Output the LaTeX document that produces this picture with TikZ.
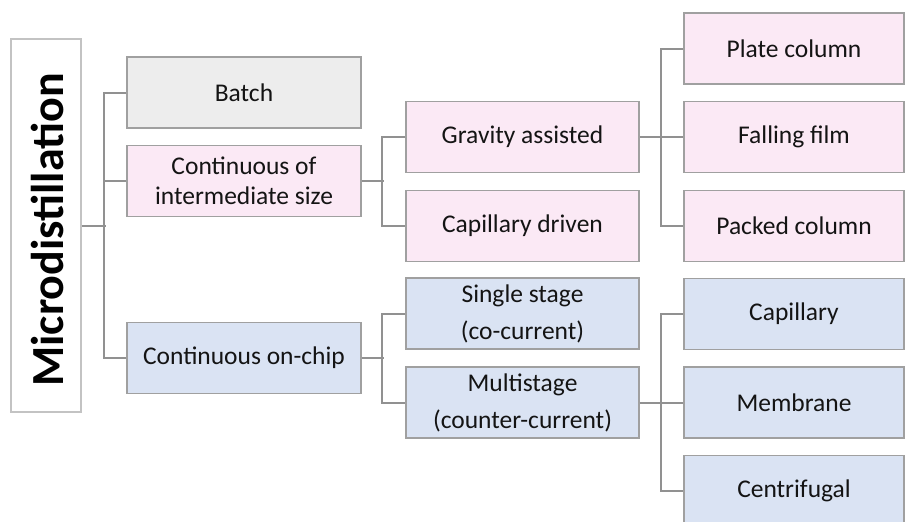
\documentclass[tikz,border=0pt]{standalone}
\usepackage{fontspec}
\setmainfont{Carlito}
\definecolor{grayfill}{RGB}{237,237,237}
\definecolor{pinkfill}{RGB}{251,233,245}
\definecolor{bluefill}{RGB}{218,227,243}
\definecolor{boxline}{RGB}{160,160,160}
\definecolor{connline}{RGB}{145,145,145}
\definecolor{titleline}{RGB}{195,195,195}
\definecolor{txt}{RGB}{20,20,20}
\begin{document}
\begin{tikzpicture}[x=1pt,y=-1pt,
  box/.style={rectangle, draw=boxline, line width=1.5pt, inner sep=0pt,
    minimum height=71pt, align=center, text=txt,
    font=\fontsize{25.5}{30}\selectfont},
  colA/.style={box, minimum width=234pt},
  colB/.style={box, minimum width=233pt},
  colC/.style={box, minimum width=220pt},
  twoline/.style={font=\fontsize{25.5}{37}\selectfont},
  conn/.style={draw=connline, line width=2pt}]
\useasboundingbox (0,0) rectangle (905,522);
\clip (0,0) rectangle (905,522);
% title
\node[rectangle, draw=titleline, line width=1.5pt, fill=white, minimum width=70pt,
  minimum height=373pt, inner sep=0pt] (title) at (46,225.5) {};
\node[rotate=90, font=\fontsize{46}{50}\selectfont\bfseries, text=black] (titletext) at (47,230) {Microdistillation};
% column 1
\node[colA, fill=grayfill] (batch) at (244,92.5) {Batch};
\node[colA, fill=pinkfill] (inter) at (244,181) {Continuous of\\intermediate size};
\node[colA, fill=bluefill] (onchip) at (244,358) {Continuous on-chip};
% column 2
\node[colB, fill=pinkfill] (gravity) at (522.5,137) {Gravity assisted};
\node[colB, fill=pinkfill] (capdrv) at (522.5,226) {Capillary driven};
\node[colB, fill=bluefill, twoline] (single) at (522.5,313.5) {Single stage\\(co-current)};
\node[colB, fill=bluefill, twoline] (multi) at (522.5,402.5) {Multistage\\(counter-current)};
% column 3
\node[colC, fill=pinkfill] (plate) at (794,48.5) {Plate column};
\node[colC, fill=pinkfill] (falling) at (794,137) {Falling film};
\node[colC, fill=pinkfill] (packed) at (794,226) {Packed column};
\node[colC, fill=bluefill] (capillary) at (794,314) {Capillary};
\node[colC, fill=bluefill] (membrane) at (794,402.5) {Membrane};
\node[colC, fill=bluefill] (centrifugal) at (794,491) {Centrifugal};
% connectors
\draw[conn] (title.east) -- ++(24,0);
\draw[conn] (batch.west) -- ++(-22,0) |- (onchip.west);
\draw[conn] (inter.west) -- ++(-22,0);
\draw[conn] (inter.east) -- ++(22,0);
\draw[conn] (gravity.west) -- ++(-23,0) |- (capdrv.west);
\draw[conn] (onchip.east) -- ++(22,0);
\draw[conn] (single.west) -- ++(-23,0) |- (multi.west);
\draw[conn] (gravity.east) -- ++(23,0);
\draw[conn] (plate.west) -- ++(-22,0) |- (packed.west);
\draw[conn] (falling.west) -- ++(-22,0);
\draw[conn] (multi.east) -- ++(23,0);
\draw[conn] (capillary.west) -- ++(-22,0) |- (centrifugal.west);
\draw[conn] (membrane.west) -- ++(-22,0);
\end{tikzpicture}
\end{document}
